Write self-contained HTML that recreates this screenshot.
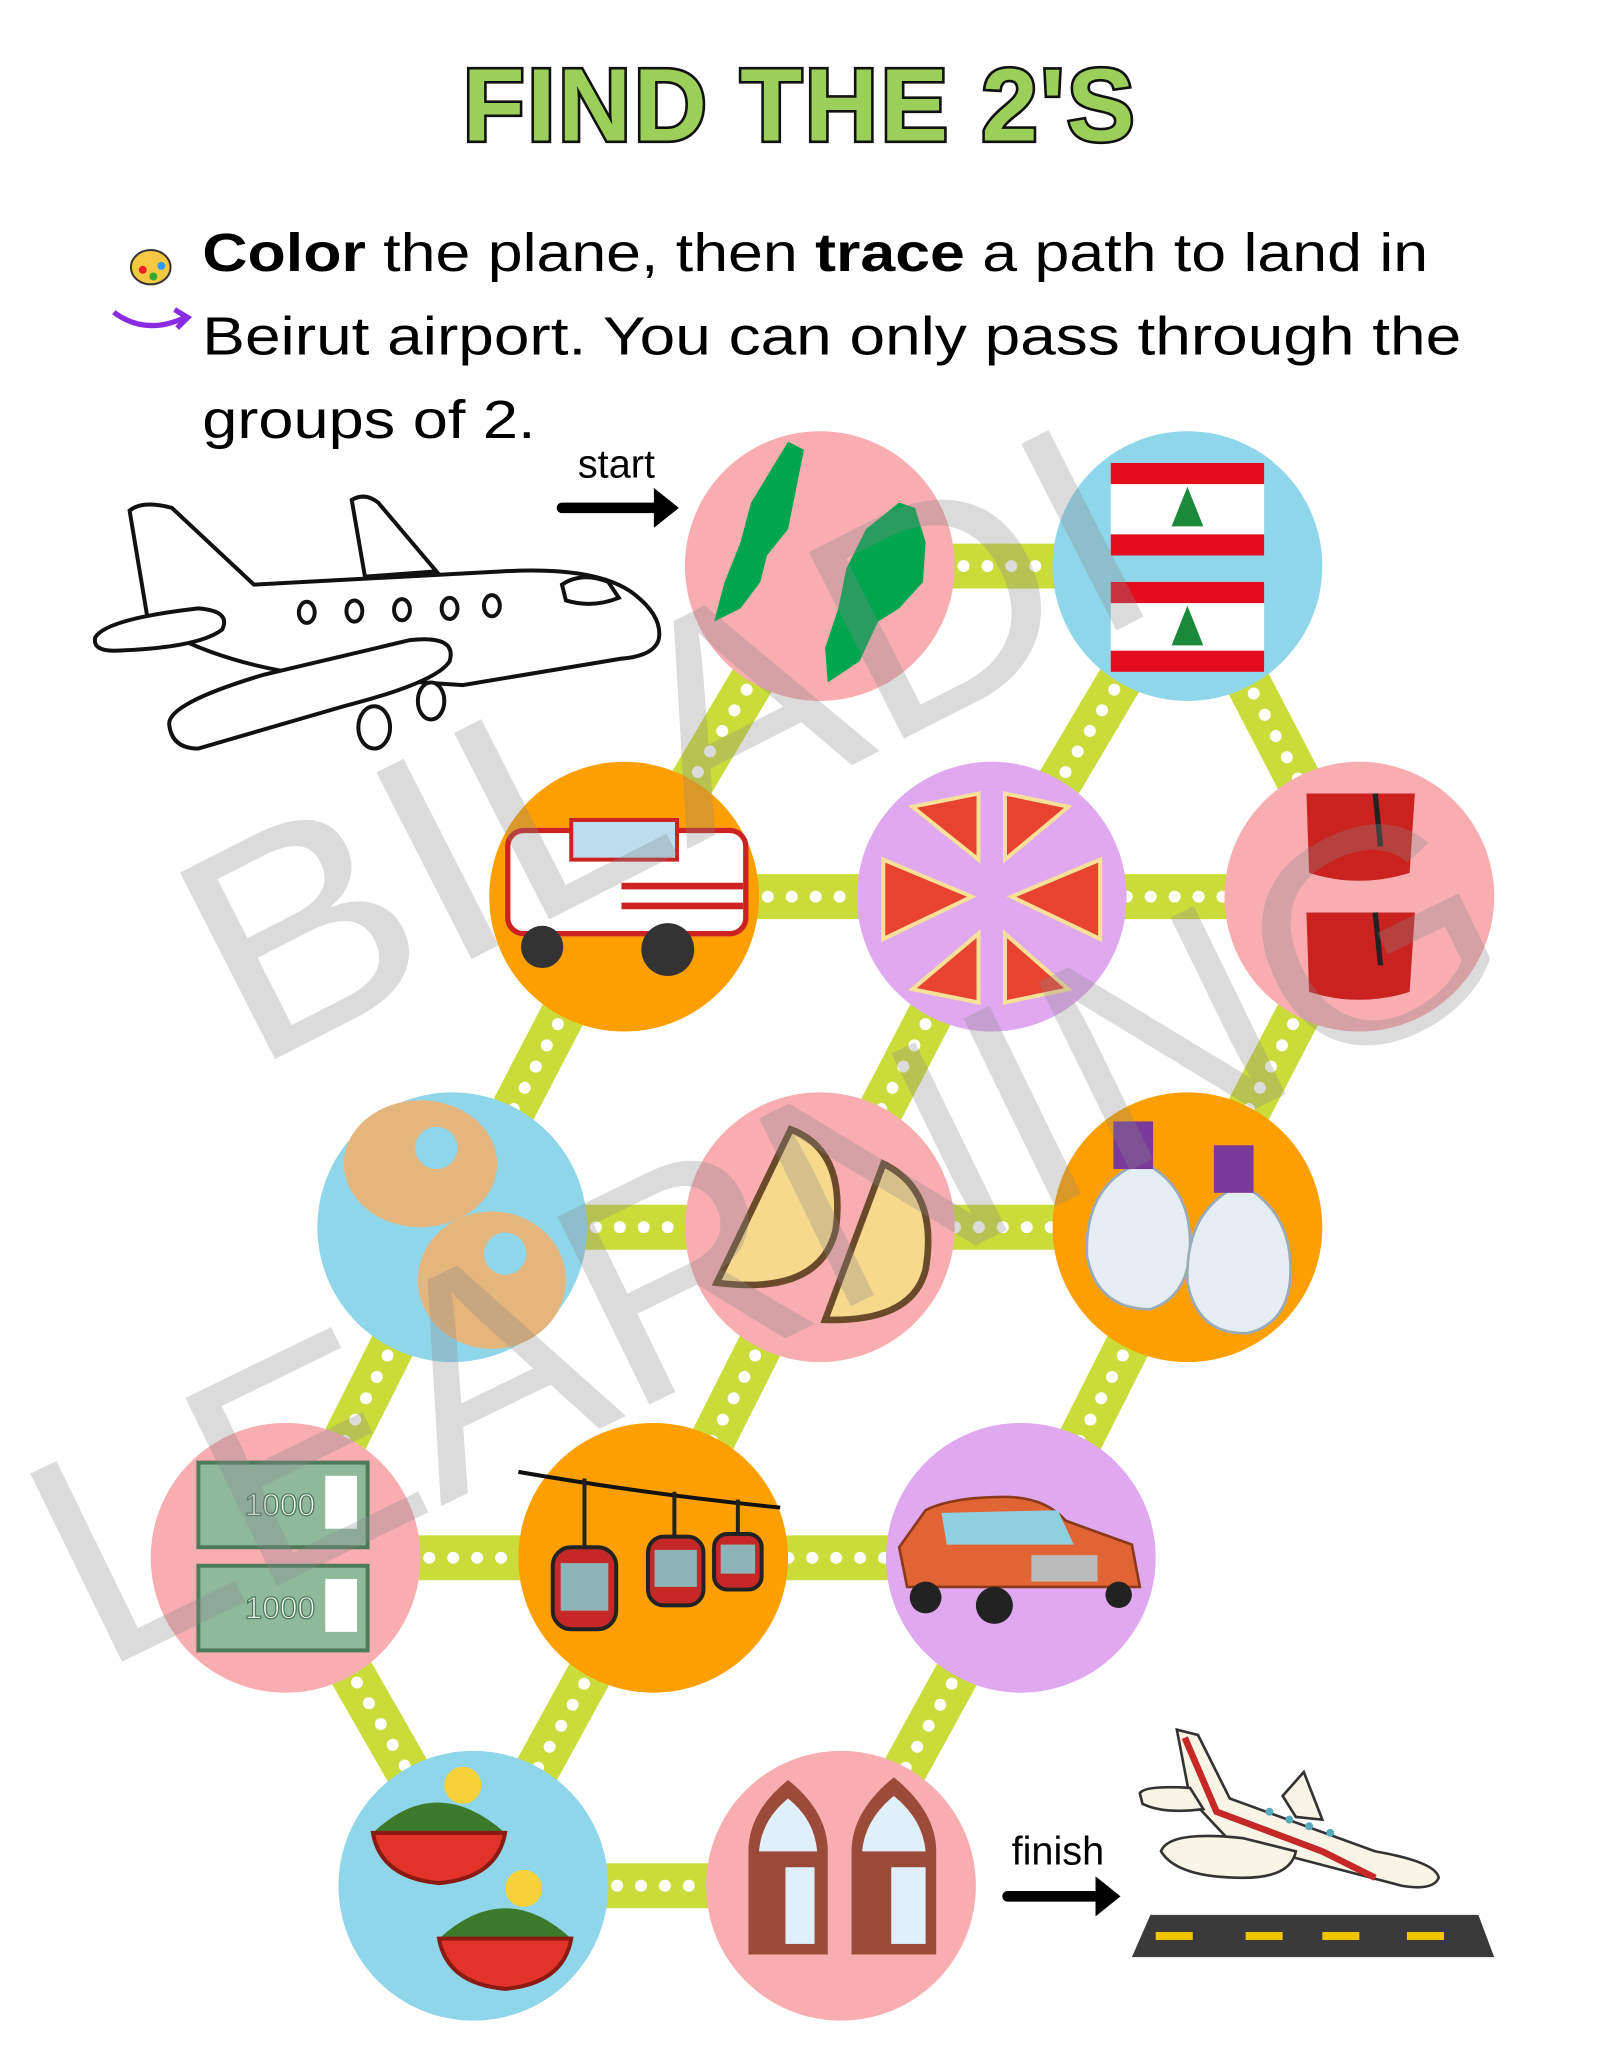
<!DOCTYPE html>
<html><head><meta charset="utf-8"><style>
html,body{margin:0;padding:0;background:#fff;}
svg{display:block;}
text{font-family:"Liberation Sans",sans-serif;}
</style></head><body>
<svg width="1600" height="2071" viewBox="0 0 1210 1566" xmlns="http://www.w3.org/2000/svg">
<rect width="1210" height="1566" fill="#fff"/>
<!-- title -->
<text x="605" y="106" text-anchor="middle" font-size="78" font-weight="bold" fill="#9ccf5a" stroke="#111" stroke-width="4" paint-order="stroke" letter-spacing="2" textLength="510" lengthAdjust="spacingAndGlyphs">FIND THE 2'S</text>
<!-- instructions -->
<g font-family="Liberation Sans,sans-serif" font-size="41" fill="#000">
<text x="153" y="205" textLength="927" lengthAdjust="spacingAndGlyphs"><tspan font-weight="bold">Color</tspan> the plane, then <tspan font-weight="bold">trace</tspan> a path to land in</text>
<text x="153" y="268" textLength="952" lengthAdjust="spacingAndGlyphs">Beirut airport. You can only pass through the</text>
<text x="153" y="331" textLength="252" lengthAdjust="spacingAndGlyphs">groups of 2.</text>
</g>
<!-- palette icon -->
<ellipse cx="114" cy="202" rx="15" ry="13" fill="#f5c842" stroke="#333" stroke-width="1.5"/>
<circle cx="108" cy="204" r="3" fill="#e22"/><circle cx="116" cy="209" r="3" fill="#3a3"/><circle cx="122" cy="201" r="3" fill="#39f"/>
<path d="M86 236 Q110 254 140 240" stroke="#8a2be2" stroke-width="4" fill="none"/><path d="M132 234 L142 240 L134 248" stroke="#8a2be2" stroke-width="4" fill="none"/>
<!-- start -->
<text x="437" y="361" font-size="30" fill="#000">start</text>
<path d="M425 384 H498" stroke="#000" stroke-width="8" stroke-linecap="round"/><path d="M496 372 L511 384 L496 396 Z" fill="#000" stroke="#000" stroke-width="3"/>
<!-- outline plane -->
<g fill="#fff" stroke="#111" stroke-width="3">
<path d="M266 378 Q276 372 286 380 L330 432 L276 436 Z"/>
<path d="M98 386 Q108 378 130 384 L192 442 L380 432 Q450 428 478 448 Q502 466 498 484 Q494 496 470 498 L350 518 L230 510 Q160 500 112 470 Z"/>
<path d="M72 482 Q80 468 150 460 Q175 462 168 476 Q150 490 86 492 Q70 492 72 482Z"/>
<path d="M128 548 Q126 532 200 510 L310 484 Q346 480 340 500 Q330 516 260 534 L150 566 Q130 566 128 548Z"/>
<ellipse cx="283" cy="550" rx="12" ry="16"/><ellipse cx="326" cy="530" rx="10" ry="14"/>
<ellipse cx="232" cy="463" rx="6" ry="8"/><ellipse cx="268" cy="462" rx="6" ry="8"/><ellipse cx="304" cy="461" rx="6" ry="8"/><ellipse cx="340" cy="460" rx="6" ry="8"/><ellipse cx="372" cy="458" rx="6" ry="8"/>
<path d="M425 442 Q440 432 460 440 L468 452 Q448 460 428 454 Z"/>
</g>
<!-- connectors -->
<g stroke="#cadc3a" stroke-width="34" stroke-linecap="butt">
<line x1="620" y1="428" x2="898" y2="428"/>
<line x1="620" y1="428" x2="472" y2="678"/>
<line x1="898" y1="428" x2="750" y2="678"/>
<line x1="898" y1="428" x2="1028" y2="678"/>
<line x1="472" y1="678" x2="1028" y2="678"/>
<line x1="472" y1="678" x2="342" y2="928"/>
<line x1="750" y1="678" x2="620" y2="928"/>
<line x1="1028" y1="678" x2="898" y2="928"/>
<line x1="342" y1="928" x2="898" y2="928"/>
<line x1="342" y1="928" x2="216" y2="1178"/>
<line x1="620" y1="928" x2="494" y2="1178"/>
<line x1="898" y1="928" x2="772" y2="1178"/>
<line x1="216" y1="1178" x2="772" y2="1178"/>
<line x1="216" y1="1178" x2="358" y2="1426"/>
<line x1="494" y1="1178" x2="358" y2="1426"/>
<line x1="772" y1="1178" x2="636" y2="1426"/>
<line x1="358" y1="1426" x2="636" y2="1426"/>
</g>
<g stroke="#fff" stroke-width="9" stroke-linecap="round" stroke-dasharray="0.1 18">
<line x1="620" y1="428" x2="898" y2="428"/>
<line x1="620" y1="428" x2="472" y2="678"/>
<line x1="898" y1="428" x2="750" y2="678"/>
<line x1="898" y1="428" x2="1028" y2="678"/>
<line x1="472" y1="678" x2="1028" y2="678"/>
<line x1="472" y1="678" x2="342" y2="928"/>
<line x1="750" y1="678" x2="620" y2="928"/>
<line x1="1028" y1="678" x2="898" y2="928"/>
<line x1="342" y1="928" x2="898" y2="928"/>
<line x1="342" y1="928" x2="216" y2="1178"/>
<line x1="620" y1="928" x2="494" y2="1178"/>
<line x1="898" y1="928" x2="772" y2="1178"/>
<line x1="216" y1="1178" x2="772" y2="1178"/>
<line x1="216" y1="1178" x2="358" y2="1426"/>
<line x1="494" y1="1178" x2="358" y2="1426"/>
<line x1="772" y1="1178" x2="636" y2="1426"/>
<line x1="358" y1="1426" x2="636" y2="1426"/>
</g>
<!-- circles -->
<circle cx="620" cy="428" r="102" fill="#f8adb0"/>
<circle cx="898" cy="428" r="102" fill="#8fd6ea"/>
<circle cx="472" cy="678" r="102" fill="#fd9f00"/>
<circle cx="750" cy="678" r="102" fill="#e0a9ef"/>
<circle cx="1028" cy="678" r="102" fill="#f8adb0"/>
<circle cx="342" cy="928" r="102" fill="#8fd6ea"/>
<circle cx="620" cy="928" r="102" fill="#f8adb0"/>
<circle cx="898" cy="928" r="102" fill="#fd9f00"/>
<circle cx="216" cy="1178" r="102" fill="#f8adb0"/>
<circle cx="494" cy="1178" r="102" fill="#fd9f00"/>
<circle cx="772" cy="1178" r="102" fill="#e0a9ef"/>
<circle cx="358" cy="1426" r="102" fill="#8fd6ea"/>
<circle cx="636" cy="1426" r="102" fill="#f8adb0"/>
<!-- A: lebanon maps -->
<path d="M596 334 L608 340 L602 370 L596 400 L580 420 L575 440 L560 460 L540 470 L548 440 L560 410 L568 380 Z" fill="#00a54f"/>
<path d="M680 380 L692 384 L700 410 L698 440 L680 460 L664 470 L650 500 L626 516 L624 490 L634 460 L640 430 L655 400 Z" fill="#00a54f"/>
<!-- B: flags -->
<g>
<rect x="840" y="350" width="116" height="70" fill="#fff"/><rect x="840" y="350" width="116" height="16" fill="#e30d1e"/><rect x="840" y="404" width="116" height="16" fill="#e30d1e"/>
<path d="M898 368 L886 398 L910 398Z" fill="#1a8a3a"/>
<rect x="840" y="440" width="116" height="68" fill="#fff"/><rect x="840" y="440" width="116" height="16" fill="#e30d1e"/><rect x="840" y="492" width="116" height="16" fill="#e30d1e"/>
<path d="M898 458 L886 488 L910 488Z" fill="#1a8a3a"/>
</g>
<!-- C: bus -->
<rect x="384" y="628" width="180" height="78" rx="12" fill="#fff" stroke="#c22" stroke-width="4"/>
<rect x="432" y="620" width="80" height="30" fill="#bde" stroke="#c22" stroke-width="3"/>
<line x1="470" y1="670" x2="562" y2="670" stroke="#c22" stroke-width="5"/><line x1="470" y1="685" x2="562" y2="685" stroke="#c22" stroke-width="5"/>
<circle cx="410" cy="716" r="16" fill="#333"/><circle cx="505" cy="718" r="20" fill="#333"/>
<!-- D: pizza -->
<g fill="#e8432f" stroke="#f7e199" stroke-width="3">
<path d="M740 600 L690 610 L740 650 Z"/><path d="M760 600 L808 610 L760 650 Z"/>
<path d="M668 650 L668 710 L735 678 Z"/><path d="M832 650 L832 710 L765 678 Z"/>
<path d="M740 706 L690 748 L740 758 Z"/><path d="M760 706 L808 748 L760 758 Z"/>
</g>
<!-- E: fez -->
<path d="M988 600 L1070 600 L1066 660 Q1028 672 990 660 Z" fill="#c9221f"/>
<path d="M988 690 L1070 690 L1066 750 Q1028 762 990 750 Z" fill="#c9221f"/>
<line x1="1040" y1="600" x2="1044" y2="640" stroke="#222" stroke-width="4"/><line x1="1040" y1="690" x2="1044" y2="730" stroke="#222" stroke-width="4"/>
<!-- F: kaak -->
<ellipse cx="318" cy="880" rx="58" ry="48" fill="#e4b57c"/><circle cx="330" cy="868" r="16" fill="#8fd6ea"/>
<ellipse cx="372" cy="968" rx="56" ry="52" fill="#e4b57c"/><circle cx="382" cy="948" r="16" fill="#8fd6ea"/>
<!-- G: bread -->
<path d="M598 854 Q640 870 632 930 Q620 980 542 970 Z" fill="#f7d98e" stroke="#6b4a2b" stroke-width="5"/>
<path d="M668 880 Q710 900 700 960 Q690 1000 624 998 Z" fill="#f7d98e" stroke="#6b4a2b" stroke-width="5"/>
<!-- H: jugs -->
<path d="M856 882 Q820 900 822 950 Q830 990 870 990 Q900 980 900 940 Q900 900 870 882 Z" fill="#e4eef2" stroke="#9ab" stroke-width="2"/>
<rect x="842" y="848" width="30" height="36" fill="#7a3a9a"/>
<path d="M930 900 Q896 920 898 970 Q906 1010 944 1008 Q976 1000 976 960 Q976 920 946 900 Z" fill="#e4eef2" stroke="#9ab" stroke-width="2"/>
<rect x="918" y="866" width="30" height="36" fill="#7a3a9a"/>
<!-- I: money -->
<g fill="#8fb99b" stroke="#4d7b5a" stroke-width="3">
<rect x="150" y="1106" width="128" height="64"/><rect x="150" y="1184" width="128" height="64"/>
</g>
<rect x="246" y="1116" width="24" height="40" fill="#fff"/><rect x="246" y="1194" width="24" height="40" fill="#fff"/>
<text x="185" y="1146" font-size="24" fill="#fff" stroke="#4d7b5a" stroke-width="1">1000</text>
<text x="185" y="1224" font-size="24" fill="#fff" stroke="#4d7b5a" stroke-width="1">1000</text>
<!-- J: cable cars -->
<path d="M392 1113 Q490 1130 590 1140" stroke="#111" stroke-width="3" fill="none"/>
<g fill="#c62828" stroke="#222" stroke-width="3">
<rect x="418" y="1170" width="48" height="62" rx="14"/><rect x="490" y="1162" width="42" height="52" rx="12"/><rect x="540" y="1160" width="36" height="42" rx="10"/>
</g>
<g fill="#8fb4b8"><rect x="424" y="1182" width="36" height="36"/><rect x="495" y="1172" width="32" height="28"/><rect x="545" y="1168" width="26" height="22"/></g>
<g stroke="#222" stroke-width="3"><line x1="442" y1="1118" x2="442" y2="1170"/><line x1="510" y1="1128" x2="510" y2="1162"/><line x1="558" y1="1134" x2="558" y2="1160"/></g>
<!-- K: taxi -->
<path d="M680 1170 L700 1142 Q720 1132 760 1132 Q790 1132 806 1150 L856 1168 L862 1200 L686 1200 Z" fill="#e06434" stroke="#8a3a1a" stroke-width="2"/>
<path d="M712 1144 L800 1142 L812 1168 L716 1168 Z" fill="#8fd0e0"/>
<rect x="780" y="1176" width="50" height="20" fill="#bbb"/>
<circle cx="700" cy="1208" r="12" fill="#222"/><circle cx="752" cy="1214" r="14" fill="#222"/><circle cx="846" cy="1206" r="10" fill="#222"/>
<!-- L: tabbouleh -->
<path d="M282 1386 Q330 1340 382 1386 Z" fill="#3b7a2a"/><path d="M282 1386 H382 Q376 1420 332 1424 Q288 1420 282 1386Z" fill="#e2332a" stroke="#8a1a12" stroke-width="3"/>
<circle cx="350" cy="1350" r="14" fill="#f6d13a"/>
<path d="M332 1466 Q382 1420 432 1466 Z" fill="#3b7a2a"/><path d="M332 1466 H432 Q426 1500 382 1504 Q338 1500 332 1466Z" fill="#e2332a" stroke="#8a1a12" stroke-width="3"/>
<circle cx="396" cy="1428" r="14" fill="#f6d13a"/>
<!-- M: windows -->
<g fill="#9c4a3a"><path d="M566 1478 V1400 Q566 1370 596 1346 Q626 1370 626 1400 V1478Z"/><path d="M644 1478 V1400 Q644 1370 676 1344 Q708 1370 708 1400 V1478Z"/></g>
<g fill="#dff0fb"><path d="M574 1400 Q576 1376 596 1360 Q616 1376 618 1400Z"/><path d="M652 1400 Q654 1376 676 1358 Q698 1376 700 1400Z"/>
<rect x="594" y="1412" width="22" height="58"/><rect x="674" y="1412" width="26" height="58"/></g>
<!-- finish -->
<text x="765" y="1410" font-size="30" fill="#000">finish</text>
<path d="M762 1434 H832" stroke="#000" stroke-width="8" stroke-linecap="round"/><path d="M830 1422 L845 1434 L830 1446 Z" fill="#000" stroke="#000" stroke-width="3"/>
<!-- colored plane -->
<g stroke="#333" stroke-width="2" fill="#f8f4e6">
<path d="M890 1308 L906 1312 L930 1360 L1040 1400 Q1086 1408 1088 1420 Q1084 1430 1060 1426 L930 1392 L900 1360 Z"/>
<path d="M862 1356 Q866 1350 900 1352 L910 1368 Q880 1372 864 1364Z"/>
<path d="M970 1358 L986 1340 L1000 1376 L980 1374Z"/>
<path d="M878 1400 Q884 1384 940 1390 L980 1400 Q976 1420 940 1420 Q890 1420 878 1400Z"/>
</g>
<path d="M896 1314 L920 1370 L1000 1400 L1040 1420" stroke="#c62828" stroke-width="5" fill="none"/>
<g fill="#5ab"><circle cx="960" cy="1370" r="3"/><circle cx="975" cy="1376" r="3"/><circle cx="990" cy="1381" r="3"/><circle cx="1006" cy="1386" r="3"/></g>
<!-- runway -->
<path d="M870 1448 H1118 L1130 1480 H856 Z" fill="#3a3a3a"/>
<g fill="#f5c400"><rect x="874" y="1461" width="28" height="6"/><rect x="942" y="1461" width="28" height="6"/><rect x="1000" y="1461" width="28" height="6"/><rect x="1064" y="1461" width="28" height="6"/></g>
<!-- watermark -->
<g fill="#888" fill-opacity="0.3" font-size="230" font-family="Liberation Sans,sans-serif">
<text x="0" y="0" transform="translate(190,810) rotate(-27)" textLength="780" lengthAdjust="spacingAndGlyphs">BILADI</text>
<text x="0" y="0" transform="translate(75,1265) rotate(-26)" textLength="1200" lengthAdjust="spacingAndGlyphs">LEARNING</text>
</g>
</svg>
</body></html>
